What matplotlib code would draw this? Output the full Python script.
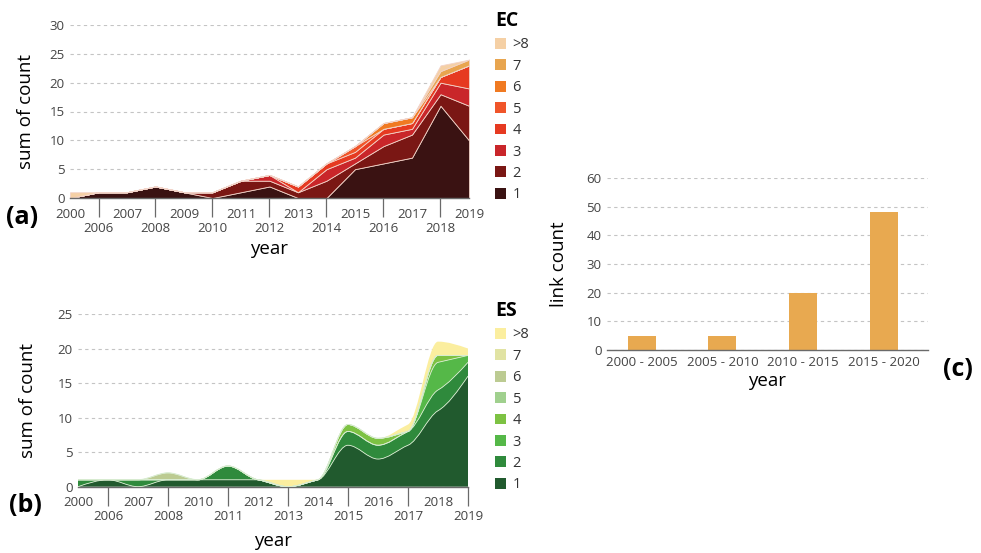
import matplotlib
matplotlib.use("Agg")
import matplotlib.pyplot as plt
from matplotlib.patches import Patch, PathPatch
from matplotlib.path import Path
import numpy as np

plt.rcParams["font.family"] = ["Open Sans", "DejaVu Sans"]

# ---- data: panel (a) EC ----
ec_years = ["2000", "2006", "2007", "2008", "2009", "2010", "2011", "2012",
            "2013", "2014", "2015", "2016", "2017", "2018", "2019"]
ec_1 = [0, 1, 1, 2, 1, 0, 1, 2, 0, 0, 5, 6, 7, 16, 10]
ec_2 = [0, 0, 0, 0, 0, 1, 2, 1, 1, 3, 1, 3, 4, 2, 6]
ec_3 = [0, 0, 0, 0, 0, 0, 0, 1, 0, 2, 1, 2, 1, 2, 3]
ec_4 = [0, 0, 0, 0, 0, 0, 0, 0, 1, 1, 1, 1, 1, 1, 4]
ec_5 = [0, 0, 0, 0, 0, 0, 0, 0, 0, 0, 1, 0, 0, 0, 0]
ec_6 = [0, 0, 0, 0, 0, 0, 0, 0, 0, 0, 0, 1, 1, 0, 0]
ec_7 = [0, 0, 0, 0, 0, 0, 0, 0, 0, 0, 0, 0, 0, 1, 1]
ec_8 = [1, 0, 0, 0, 0, 0, 0, 0, 0, 0, 0, 0, 0, 1, 0]

# ---- data: panel (b) ES ----
es_years = ["2000", "2006", "2007", "2008", "2010", "2011", "2012",
            "2013", "2014", "2015", "2016", "2017", "2018", "2019"]
es_1 = [0, 1, 0, 1, 1, 1, 1, 0, 1, 6, 4, 6, 11, 16]
es_2 = [1, 0, 1, 0, 0, 2, 0, 0, 0, 2, 2, 2, 3, 2]
es_3 = [0, 0, 0, 0, 0, 0, 0, 0, 0, 0, 0, 0, 4, 1]
es_4 = [0, 0, 0, 0, 0, 0, 0, 0, 0, 1, 1, 0, 1, 0]
es_5 = [0, 0, 0, 0, 0, 0, 0, 0, 0, 0, 0, 0, 0, 0]
es_6 = [0, 0, 0, 1, 0, 0, 0, 0, 0, 0, 0, 0, 0, 0]
es_7 = [0, 0, 0, 0, 0, 0, 0, 0, 0, 0, 0, 0, 0, 0]
es_8 = [0, 0, 0, 0, 0, 0, 0, 1, 0, 0, 0, 1, 2, 1]

# ---- data: panel (c) ----
periods = ["2000 - 2005", "2005 - 2010", "2010 - 2015", "2015 - 2020"]
link_count = [5, 5, 20, 48]

level_labels = ["1", "2", "3", "4", "5", "6", "7", ">8"]
ec_colors = ["#3a1212", "#7a1714", "#c9262a", "#e63a21",
             "#f0552a", "#f07a22", "#e8a54f", "#f5d0a5"]
es_colors = ["#215a2e", "#2f8a3c", "#55b848", "#7dc243",
             "#a0d08e", "#bccb92", "#e1e3a3", "#fbee9f"]

GRID = "#c4c4c4"
TICK = "#444444"
AXIS = "#6a6a6a"
TICK_FS = 9.5
LABEL_FS = 13.5


def style_axis(ax):
    for s in ["top", "right", "left"]:
        ax.spines[s].set_visible(False)
    ax.spines["bottom"].set_color(AXIS)
    ax.spines["bottom"].set_linewidth(1.0)
    ax.yaxis.grid(True, linestyle=(0, (3, 3)), color=GRID, linewidth=0.8)
    ax.set_axisbelow(True)
    ax.tick_params(axis="y", length=0, labelsize=TICK_FS, labelcolor=TICK,
                   pad=4)


def year_ticks(ax, years):
    x = list(range(len(years)))
    top_idx = x[0::2]
    bot_idx = x[1::2]
    ax.set_xticks(top_idx)
    ax.set_xticklabels([years[i] for i in top_idx])
    ax.set_xticks(bot_idx, minor=True)
    ax.set_xticklabels([years[i] for i in bot_idx], minor=True)
    ax.tick_params(axis="x", which="major", length=0, pad=7,
                   labelsize=TICK_FS, labelcolor=TICK)
    ax.tick_params(axis="x", which="minor", length=14, width=0.9,
                   color=AXIS, pad=3, labelsize=TICK_FS, labelcolor=TICK)


def monotone_segments(x, y):
    # bezier control points of a monotone cubic (like d3 curveMonotoneX)
    x = np.asarray(x, float)
    y = np.asarray(y, float)
    n = len(x)
    h = np.diff(x)
    s = np.diff(y) / h
    t = np.zeros(n)
    for i in range(1, n - 1):
        if s[i - 1] * s[i] > 0:
            p = (s[i - 1] * h[i] + s[i] * h[i - 1]) / (h[i - 1] + h[i])
            t[i] = np.sign(s[i - 1]) * min(abs(s[i - 1]), abs(s[i]),
                                             0.5 * abs(p))
    t[0] = (3 * s[0] - t[1]) / 2
    t[-1] = (3 * s[-1] - t[-2]) / 2
    segs = []
    for i in range(n - 1):
        c1 = (x[i] + h[i] / 3, y[i] + h[i] * t[i] / 3)
        c2 = (x[i + 1] - h[i] / 3, y[i + 1] - h[i] * t[i + 1] / 3)
        segs.append(((x[i], y[i]), c1, c2, (x[i + 1], y[i + 1])))
    return segs


def curve_path(segs, reverse=False, start_code=Path.MOVETO):
    verts, codes = [], []
    if reverse:
        segs = [(d, c, b, a) for (a, b, c, d) in segs[::-1]]
    verts.append(segs[0][0])
    codes.append(start_code)
    for a, b, c, d in segs:
        verts += [b, c, d]
        codes += [Path.CURVE4] * 3
    return verts, codes


def smooth_stack(ax, years, layers, colors, edge):
    x = list(range(len(years)))
    lower = np.zeros(len(x))
    for vals, col in zip(layers, colors):
        upper = lower + np.asarray(vals, float)
        up = monotone_segments(x, upper)
        lo = monotone_segments(x, lower)
        v1, c1 = curve_path(up)
        v2, c2 = curve_path(lo, reverse=True, start_code=Path.LINETO)
        verts = v1 + v2 + [v1[0]]
        codes = c1 + c2 + [Path.CLOSEPOLY]
        ax.add_patch(PathPatch(Path(verts, codes), facecolor=col,
                               edgecolor="none", zorder=2))
        lower = upper
    # thin boundaries between layers
    lower = np.zeros(len(x))
    for vals in layers[:-1]:
        lower = lower + np.asarray(vals, float)
        v, c = curve_path(monotone_segments(x, lower))
        ax.add_patch(PathPatch(Path(v, c), facecolor="none", edgecolor=edge,
                               linewidth=0.6, zorder=3))


fig = plt.figure(figsize=(9.81, 5.53), dpi=100)

# panel (a)
ax_a = fig.add_axes([70 / 981, 1 - 198 / 553, 399 / 981, 173 / 553])
ax_a.stackplot(range(len(ec_years)), ec_1, ec_2, ec_3, ec_4, ec_5, ec_6,
               ec_7, ec_8, colors=ec_colors, edgecolor="#f2d3c8",
               linewidth=0.6)
ax_a.set_xlim(0, len(ec_years) - 1)
ax_a.set_ylim(0, 30)
ax_a.set_yticks(range(0, 31, 5))
year_ticks(ax_a, ec_years)
style_axis(ax_a)
ax_a.set_ylabel("sum of count", fontsize=LABEL_FS)
ax_a.yaxis.set_label_coords(-0.088, 0.5)
ax_a.set_xlabel("year", fontsize=LABEL_FS)
ax_a.xaxis.set_label_coords(0.5, -0.24)

# panel (b)
ax_b = fig.add_axes([78 / 981, 1 - 486.7 / 553, 390 / 981, 172.7 / 553])
smooth_stack(ax_b, es_years, [es_1, es_2, es_3, es_4, es_5, es_6, es_7, es_8],
             es_colors, "#d8ecd0")
ax_b.set_xlim(0, len(es_years) - 1)
ax_b.set_ylim(0, 25)
ax_b.set_yticks(range(0, 26, 5))
year_ticks(ax_b, es_years)
style_axis(ax_b)
ax_b.set_ylabel("sum of count", fontsize=LABEL_FS)
ax_b.yaxis.set_label_coords(-0.105, 0.5)
ax_b.set_xlabel("year", fontsize=LABEL_FS)
ax_b.xaxis.set_label_coords(0.5, -0.26)

# panel (c)
ax_c = fig.add_axes([607 / 981, 1 - 350 / 553, 321 / 981, 172 / 553])
ax_c.bar(range(len(periods)), link_count, width=0.35, color="#e8a950")
ax_c.set_xlim(-0.43, 3.55)
ax_c.set_ylim(0, 60)
ax_c.set_yticks(range(0, 61, 10))
ax_c.set_xticks(range(len(periods)))
ax_c.set_xticklabels(periods)
ax_c.tick_params(axis="x", length=0, pad=4, labelsize=TICK_FS,
                 labelcolor=TICK)
style_axis(ax_c)
ax_c.set_ylabel("link count", fontsize=LABEL_FS)
ax_c.yaxis.set_label_coords(-0.12, 0.5)
ax_c.set_xlabel("year", fontsize=LABEL_FS)
ax_c.xaxis.set_label_coords(0.5, -0.13)

# panel letters
fig.text(6 / 981, 1 - 217 / 553, "(a)", fontsize=18, fontweight="bold",
         va="center")
fig.text(9 / 981, 1 - 506 / 553, "(b)", fontsize=18, fontweight="bold",
         va="center")
fig.text(943 / 981, 1 - 369 / 553, "(c)", fontsize=18, fontweight="bold",
         va="center")

# legends
for colors, title, top in [(ec_colors, "EC", 11), (es_colors, "ES", 301)]:
    handles = [Patch(facecolor=c, edgecolor="none") for c in colors][::-1]
    leg = fig.legend(handles, level_labels[::-1], loc="upper left",
                     bbox_to_anchor=(495 / 981, 1 - top / 553),
                     bbox_transform=fig.transFigure, frameon=False,
                     fontsize=10.5, title=title, alignment="left",
                     title_fontproperties={"weight": "bold", "size": 14},
                     borderpad=0, borderaxespad=0, handlelength=0.75,
                     handleheight=0.75, handletextpad=0.45,
                     labelspacing=0.44)
    for t in leg.get_texts():
        t.set_color("#333333")

fig.savefig("out.png", dpi=100)
